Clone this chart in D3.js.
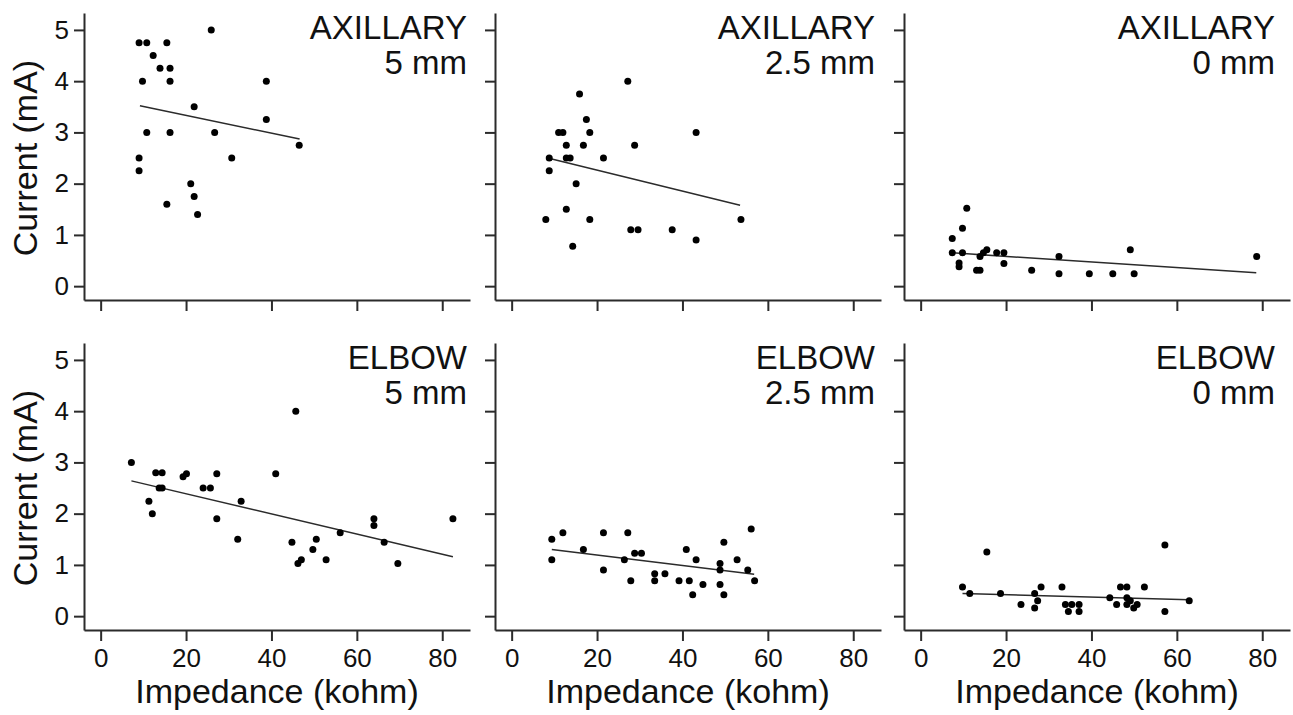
<!DOCTYPE html>
<html>
<head>
<meta charset="utf-8">
<script src="https://cdn.jsdelivr.net/npm/d3@7"></script>
<style>
  html, body { margin: 0; padding: 0; background: #fff; }
  svg { display: block; font-family: "Liberation Sans", Arial, sans-serif; }
</style>
</head>
<body>
<div id="chart"></div>
<script>
// panel labels
const sites = ['AXILLARY', 'ELBOW'];
const distances = ['5 mm', '2.5 mm', '0 mm'];
const xTicks = [0, 20, 40, 60, 80];
const yTicks = [0, 1, 2, 3, 4, 5];

// Impedance (kohm) / Current (mA)
const axillary5Imp = [9.0, 10.8, 15.5, 12.3, 13.9, 16.25, 9.8, 16.25, 25.9, 38.8, 21.9, 38.8, 10.8, 16.25, 26.7, 46.5, 9.0, 30.7, 9.0, 21.1, 21.9, 15.5, 22.7];
const axillary5Cur = [4.75, 4.75, 4.75, 4.5, 4.25, 4.25, 4.0, 4.0, 5.0, 4.0, 3.5, 3.25, 3.0, 3.0, 3.0, 2.75, 2.5, 2.5, 2.25, 2.0, 1.75, 1.6, 1.4];

const axillary25Imp = [8.0, 8.8, 8.8, 11.0, 12.0, 12.8, 12.8, 13.7, 12.8, 14.3, 15.1, 15.9, 16.8, 17.5, 18.3, 18.3, 21.5, 27.2, 27.9, 29.6, 28.8, 37.6, 43.2, 43.2, 53.7];
const axillary25Cur = [1.3, 2.25, 2.5, 3.0, 3.0, 2.75, 2.5, 2.5, 1.5, 0.78, 2.0, 3.75, 2.75, 3.25, 3.0, 1.3, 2.5, 4.0, 1.1, 1.1, 2.75, 1.1, 3.0, 0.9, 1.3];

const axillary0Imp = [7.4, 7.4, 9.8, 9.0, 9.0, 9.8, 10.8, 13.1, 13.9, 13.9, 14.7, 15.5, 17.8, 19.5, 19.5, 26.0, 32.4, 32.4, 39.5, 45.0, 49.1, 50.0, 78.7];
const axillary0Cur = [0.93, 0.65, 0.65, 0.45, 0.38, 1.13, 1.52, 0.31, 0.31, 0.58, 0.65, 0.71, 0.65, 0.65, 0.44, 0.31, 0.58, 0.24, 0.24, 0.24, 0.71, 0.24, 0.58];

const elbow5Imp = [7.2, 12.9, 14.4, 13.7, 14.4, 11.3, 12.1, 19.3, 20.1, 24.0, 25.7, 27.2, 27.2, 32.9, 32.1, 41.0, 45.7, 44.8, 46.2, 47.0, 49.7, 50.5, 52.8, 56.1, 64.0, 64.0, 66.4, 69.6, 82.5];
const elbow5Cur = [3.0, 2.8, 2.8, 2.5, 2.5, 2.24, 2.0, 2.72, 2.78, 2.5, 2.5, 2.78, 1.9, 2.24, 1.5, 2.78, 4.0, 1.44, 1.03, 1.1, 1.3, 1.5, 1.1, 1.63, 1.9, 1.77, 1.44, 1.03, 1.9];

const elbow25Imp = [9.4, 9.4, 12.0, 16.8, 21.5, 21.5, 26.4, 27.2, 27.9, 28.8, 30.4, 33.5, 33.5, 35.9, 39.2, 40.9, 41.6, 42.4, 43.2, 44.8, 48.8, 48.8, 48.8, 49.7, 49.7, 52.8, 55.3, 56.1, 56.9];
const elbow25Cur = [1.5, 1.1, 1.63, 1.3, 1.63, 0.9, 1.1, 1.63, 0.69, 1.23, 1.23, 0.83, 0.69, 0.83, 0.69, 1.3, 0.69, 0.42, 1.1, 0.62, 1.03, 0.9, 0.62, 1.44, 0.42, 1.1, 0.9, 1.7, 0.69];

const elbow0Imp = [9.8, 11.5, 15.5, 18.7, 23.5, 26.7, 26.7, 27.4, 28.2, 33.1, 33.9, 34.6, 35.4, 37.1, 37.1, 44.3, 45.9, 46.8, 48.3, 48.3, 48.3, 49.1, 49.9, 50.7, 52.4, 57.2, 57.2, 62.9];
const elbow0Cur = [0.57, 0.44, 1.25, 0.44, 0.23, 0.44, 0.16, 0.3, 0.57, 0.57, 0.23, 0.09, 0.23, 0.23, 0.09, 0.36, 0.23, 0.57, 0.57, 0.36, 0.23, 0.3, 0.16, 0.23, 0.57, 1.39, 0.09, 0.3];

// regression line end points [kohm, mA]
const axillary5Fit = [[9.2, 3.52], [46.6, 2.87]];
const axillary25Fit = [[9.4, 2.48], [53.5, 1.58]];
const axillary0Fit = [[7.4, 0.65], [78.6, 0.26]];
const elbow5Fit = [[7.2, 2.64], [82.5, 1.16]];
const elbow25Fit = [[9.4, 1.30], [56.8, 0.82]];
const elbow0Fit = [[9.8, 0.44], [62.9, 0.32]];

const panels = [
    { row: 0, col: 0, imp: axillary5Imp, cur: axillary5Cur, fit: axillary5Fit },
    { row: 0, col: 1, imp: axillary25Imp, cur: axillary25Cur, fit: axillary25Fit },
    { row: 0, col: 2, imp: axillary0Imp, cur: axillary0Cur, fit: axillary0Fit },
    { row: 1, col: 0, imp: elbow5Imp, cur: elbow5Cur, fit: elbow5Fit },
    { row: 1, col: 1, imp: elbow25Imp, cur: elbow25Cur, fit: elbow25Fit },
    { row: 1, col: 2, imp: elbow0Imp, cur: elbow0Cur, fit: elbow0Fit }
];

// layout
const width = 1293, height = 715;
const colLeft = [84, 495, 904];
const labelRight = [383, 380, 371];
const rowTop = [13, 343];
const panelW = 386, panelH = 287;
const ink = '#2b2b2b';

const svg = d3.select('#chart')
    .append('svg')
    .attr('width', width)
    .attr('height', height);

panels.forEach(p => {
    const left = colLeft[p.col];
    const top = rowTop[p.row];

    const x = d3.scaleLinear().domain([-3.9, 86.5]).range([left, left + panelW]);
    const y = d3.scaleLinear().domain([-0.27, 5.33]).range([top + panelH, top]);

    const g = svg.append('g');

    // 坐标轴
    const xAxis = g.append('g')
        .attr('transform', `translate(0,${top + panelH})`)
        .call(d3.axisBottom(x).tickValues(xTicks).tickFormat(d3.format('d'))
            .tickSize(11).tickSizeOuter(0).tickPadding(8));

    const yAxis = g.append('g')
        .attr('transform', `translate(${left},0)`)
        .call(d3.axisLeft(y).tickValues(yTicks).tickFormat(d3.format('d'))
            .tickSize(10).tickSizeOuter(0).tickPadding(5));

    [xAxis, yAxis].forEach(a => {
        a.selectAll('path, line').attr('stroke', ink).attr('stroke-width', 2);
        a.selectAll('text').attr('fill', '#111').attr('font-size', 26)
            .attr('font-family', '"Liberation Sans", Arial, sans-serif');
    });
    if (p.row === 0) xAxis.selectAll('text').remove();
    if (p.col !== 0) yAxis.selectAll('text').remove();

    // 回归线
    g.append('line')
        .attr('x1', x(p.fit[0][0]))
        .attr('y1', y(p.fit[0][1]))
        .attr('x2', x(p.fit[1][0]))
        .attr('y2', y(p.fit[1][1]))
        .attr('stroke', ink)
        .attr('stroke-width', 1.5);

    // 散点
    g.append('g')
        .selectAll('circle')
        .data(p.imp.map((v, i) => [v, p.cur[i]]))
        .enter()
        .append('circle')
        .attr('cx', d => x(d[0]))
        .attr('cy', d => y(d[1]))
        .attr('r', 3.5)
        .attr('fill', '#000');

    // 面板标题
    const lx = left + labelRight[p.col];
    g.append('text')
        .attr('x', lx)
        .attr('y', top + 26)
        .attr('text-anchor', 'end')
        .attr('font-size', 33)
        .attr('fill', '#111')
        .text(sites[p.row]);
    g.append('text')
        .attr('x', lx)
        .attr('y', top + 61)
        .attr('text-anchor', 'end')
        .attr('font-size', 33)
        .attr('fill', '#111')
        .text(distances[p.col]);

    // 轴标题
    if (p.col === 0) {
        g.append('text')
            .attr('transform', `translate(37,${(y(0) + y(5)) / 2}) rotate(-90)`)
            .attr('text-anchor', 'middle')
            .attr('font-size', 34)
            .attr('fill', '#111')
            .text('Current (mA)');
    }
    if (p.row === 1) {
        g.append('text')
            .attr('x', left + panelW / 2)
            .attr('y', 703)
            .attr('text-anchor', 'middle')
            .attr('font-size', 34)
            .attr('fill', '#111')
            .text('Impedance (kohm)');
    }
});
</script>
</body>
</html>
